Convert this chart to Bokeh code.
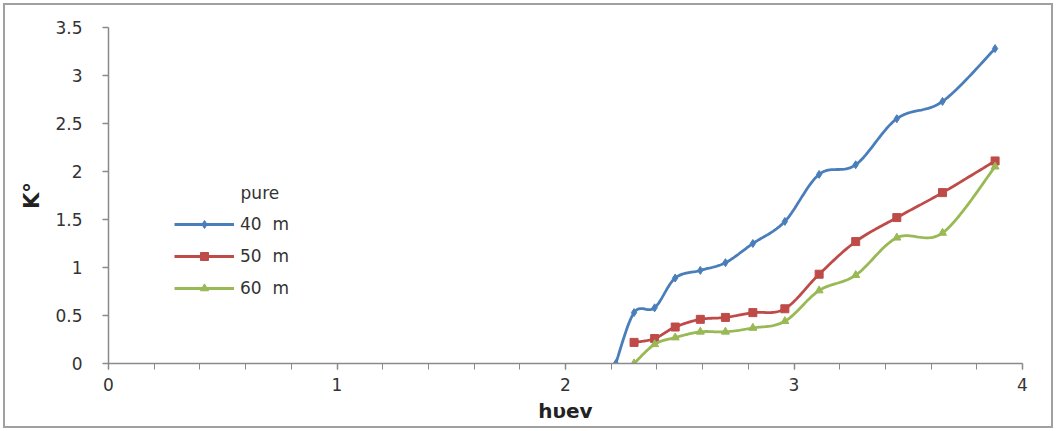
from bokeh.plotting import figure
from bokeh.models import Range1d, FixedTicker, Legend, LegendItem, Label
from bokeh.embed import file_html
from bokeh.resources import INLINE

# photon energy (eV) and extinction coefficient K for each thickness
hv_40 = [2.22, 2.30, 2.39, 2.48, 2.59, 2.70, 2.82, 2.96, 3.11, 3.27, 3.45, 3.65, 3.88]
k_40 = [0.00, 0.53, 0.58, 0.89, 0.97, 1.05, 1.25, 1.48, 1.97, 2.07, 2.55, 2.73, 3.28]

hv_50 = [2.30, 2.39, 2.48, 2.59, 2.70, 2.82, 2.96, 3.11, 3.27, 3.45, 3.65, 3.88]
k_50 = [0.22, 0.26, 0.38, 0.46, 0.48, 0.53, 0.57, 0.93, 1.27, 1.52, 1.78, 2.11]

hv_60 = [2.30, 2.39, 2.48, 2.59, 2.70, 2.82, 2.96, 3.11, 3.27, 3.45, 3.65, 3.88]
k_60 = [0.00, 0.20, 0.27, 0.33, 0.33, 0.37, 0.44, 0.76, 0.92, 1.31, 1.36, 2.05]

series_names = ["40  m", "50  m", "60  m"]
legend_title = "pure"

x_ticks = [0, 1, 2, 3, 4]
x_tick_labels = ["0", "1", "2", "3", "4"]
y_ticks = [0, 0.5, 1, 1.5, 2, 2.5, 3, 3.5]
y_tick_labels = ["0", "0.5", "1", "1.5", "2", "2.5", "3", "3.5"]


def smooth(xs, ys, n=20):
    """Cubic Bezier smoothing through the points (cardinal spline, tension 1/6)."""
    pts = list(zip(xs, ys))
    m = len(pts)
    sx, sy = [pts[0][0]], [pts[0][1]]
    for i in range(m - 1):
        p0 = pts[i - 1] if i > 0 else pts[i]
        p1 = pts[i]
        p2 = pts[i + 1]
        p3 = pts[i + 2] if i + 2 < m else pts[i + 1]
        c1 = (p1[0] + (p2[0] - p0[0]) / 6, p1[1] + (p2[1] - p0[1]) / 6)
        c2 = (p2[0] - (p3[0] - p1[0]) / 6, p2[1] - (p3[1] - p1[1]) / 6)
        for j in range(1, n + 1):
            t = j / n
            a = (1 - t) ** 3
            b = 3 * (1 - t) ** 2 * t
            c = 3 * (1 - t) * t ** 2
            d = t ** 3
            sx.append(a * p1[0] + b * c1[0] + c * c2[0] + d * p2[0])
            sy.append(a * p1[1] + b * c1[1] + c * c2[1] + d * p2[1])
    return sx, sy


FONT = "DejaVu Sans"
AXIS_GREY = "#8a8a8a"

# chart sits inside a thin grey frame (3px margin + 2px border)
p = figure(width=1046, height=421, output_backend="svg", toolbar_location=None,
           x_range=Range1d(0, 4), y_range=Range1d(0, 3.5),
           min_border_left=103, min_border_right=33,
           min_border_top=22, min_border_bottom=67,
           styles={"margin": "3px", "border": "2px solid #a0a0a0",
                   "box-sizing": "content-box"})
p.outline_line_color = None
p.xgrid.visible = False
p.ygrid.visible = False
p.background_fill_color = "white"
p.border_fill_color = "white"

# x axis
xa = p.xaxis[0]
xa.ticker = FixedTicker(ticks=x_ticks, minor_ticks=[i * 0.2 for i in range(21)])
xa.major_label_overrides = {t: s for t, s in zip(x_ticks, x_tick_labels)}
xa.axis_label = "hυev"
xa.axis_label_text_font = FONT
xa.axis_label_text_font_style = "bold"
xa.axis_label_text_font_size = "20px"
xa.axis_label_text_color = "#222222"
xa.axis_label_standoff = 5

# y axis
ya = p.yaxis[0]
ya.ticker = FixedTicker(ticks=y_ticks)
ya.major_label_overrides = {t: s for t, s in zip(y_ticks, y_tick_labels)}
ya.axis_label = "K°"
ya.axis_label_text_font = FONT
ya.axis_label_text_font_style = "bold"
ya.axis_label_text_font_size = "21px"
ya.axis_label_text_color = "#222222"
ya.axis_label_standoff = 8

for ax in (xa, ya):
    ax.axis_line_color = AXIS_GREY
    ax.axis_line_width = 1.5
    ax.major_tick_line_color = AXIS_GREY
    ax.major_tick_line_width = 1.5
    ax.major_tick_in = 0
    ax.major_tick_out = 6
    ax.minor_tick_line_color = AXIS_GREY if ax is xa else None
    ax.minor_tick_in = 0
    ax.minor_tick_out = 6
    ax.major_label_text_font = FONT
    ax.major_label_text_font_size = "17px"
    ax.major_label_text_color = "#333333"
xa.major_label_standoff = 8
ya.major_label_standoff = 20

colors = ["#4a7ebb", "#be4b48", "#98b954"]
markers = ["diamond", "square", "triangle"]
sizes = [8, 8, 8]
data = [(hv_40, k_40), (hv_50, k_50), (hv_60, k_60)]

items = []
for (xs, ys), col, mk, sz, name in zip(data, colors, markers, sizes, series_names):
    cx, cy = smooth(xs, ys)
    ln = p.line(cx, cy, line_color=col, line_width=2.8)
    sc = p.scatter(xs, ys, marker=mk, size=sz, fill_color=col, line_color=col)
    items.append(LegendItem(label=name, renderers=[ln, sc]))

legend = Legend(items=items, location=(66, 65), orientation="vertical",
                glyph_width=60, glyph_height=20, label_height=20,
                label_standoff=6, spacing=12, padding=0, margin=0,
                border_line_color=None, background_fill_alpha=0,
                label_text_font=FONT, label_text_font_size="17px",
                label_text_color="#333333")
p.add_layout(legend)

p.add_layout(Label(x=0.578, y=1.78, text=legend_title, text_font=FONT,
                   text_font_size="17px", text_color="#333333",
                   text_align="left", text_baseline="middle"))

open("out.html", "w").write(file_html(p, INLINE))
